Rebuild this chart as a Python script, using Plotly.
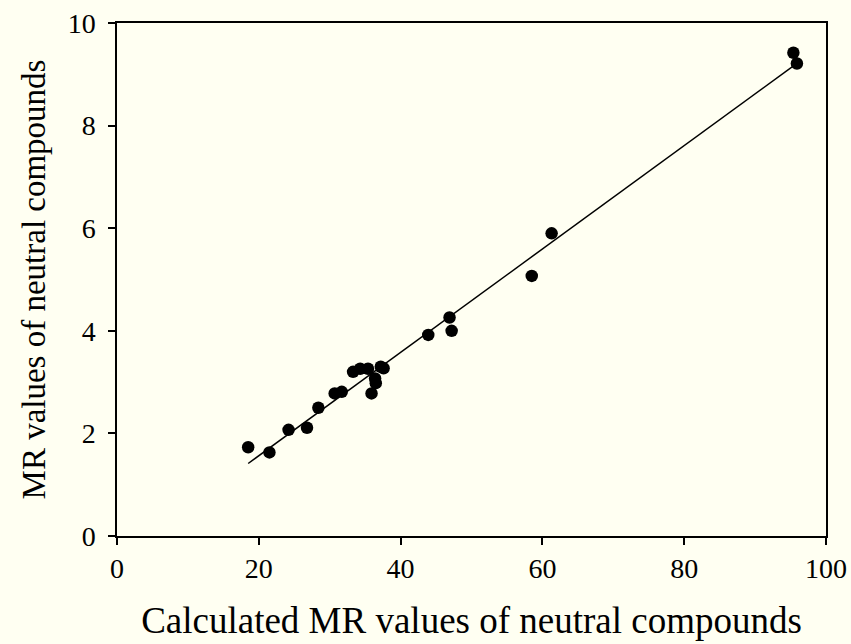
import numpy as np
import plotly.graph_objects as go

# Calculated vs. measured MR values of neutral compounds
calc_mr = [18.5, 21.5, 24.2, 26.8, 28.4, 30.7, 31.7, 33.3, 34.3, 35.4, 35.9,
           36.4, 36.5, 37.2, 37.6, 43.9, 46.9, 47.2, 58.5, 61.3, 95.4, 95.9]
meas_mr = [1.73, 1.63, 2.07, 2.11, 2.50, 2.78, 2.81, 3.20, 3.26, 3.26, 2.78,
           3.07, 2.98, 3.30, 3.27, 3.92, 4.26, 4.00, 5.07, 5.90, 9.42, 9.21]

x_ticks = [0, 20, 40, 60, 80, 100]
y_ticks = [0, 2, 4, 6, 8, 10]

# least-squares line across the data range
slope, intercept = np.polyfit(calc_mr, meas_mr, 1)
fit_x = [min(calc_mr), max(calc_mr)]
fit_y = [slope * v + intercept for v in fit_x]

bg = "#FFFFF2"
font_family = "Liberation Serif"

fig = go.Figure()
fig.add_trace(go.Scatter(x=fit_x, y=fit_y, mode="lines",
                         line=dict(color="black", width=1.5),
                         hoverinfo="skip", showlegend=False))
fig.add_trace(go.Scatter(x=calc_mr, y=meas_mr, mode="markers",
                         marker=dict(color="black", size=12.5),
                         showlegend=False))

axis_common = dict(showgrid=False, zeroline=False, showline=True,
                   linecolor="black", linewidth=1.5, mirror=True,
                   ticks="outside", ticklen=7, tickwidth=1.5,
                   tickcolor="black", automargin=False,
                   tickfont=dict(family=font_family, size=28, color="black"))

fig.update_layout(
    width=851, height=644,
    margin=dict(l=117, r=25, t=23, b=108),
    paper_bgcolor=bg, plot_bgcolor=bg,
    font=dict(family=font_family, color="black"),
    xaxis=dict(range=[0, 100], tickvals=x_ticks, **axis_common,
               title=dict(text="Calculated MR values of neutral compounds",
                          font=dict(family=font_family, size=37),
                          standoff=24)),
    yaxis=dict(range=[0, 10], tickvals=y_ticks, **axis_common,
               ticklabelstandoff=7,
               title=dict(text="MR values of neutral compounds",
                          font=dict(family=font_family, size=33),
                          standoff=12)),
)

fig.write_html("out.html")
